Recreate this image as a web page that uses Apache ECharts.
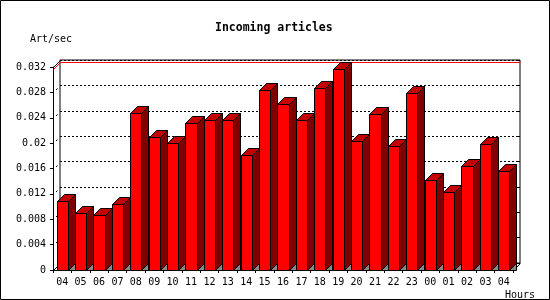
<!DOCTYPE html>
<html><head><meta charset="utf-8">
<script src="https://cdn.jsdelivr.net/npm/echarts@6/dist/echarts.min.js"></script>
<style>html,body{margin:0;padding:0;background:#fff}#c{width:550px;height:300px}</style>
</head><body><div id="c"></div>
<script>
// ---- data ----
const hours = ['04','05','06','07','08','09','10','11','12','13','14','15','16','17','18','19','20','21','22','23','00','01','02','03','04'];
const articlesPerSec = [0.0109,0.0090,0.0087,0.0104,0.0247,0.0210,0.0200,0.0232,0.0236,0.0236,0.0181,0.0284,0.0262,0.0236,0.0287,0.0317,0.0203,0.0246,0.0195,0.0279,0.0142,0.0123,0.0164,0.0199,0.0156];
const yTicks = [0,0.004,0.008,0.012,0.016,0.020,0.024,0.028,0.032];
const titleText = 'Incoming articles';
const yUnit = 'Art/sec';
const xUnit = 'Hours';

// ---- style / layout ----
const MONO = '"DejaVu Sans Mono","Liberation Mono",monospace';
const D = 7;            // 3D depth in px
const FACE = 0.6;       // front face width as fraction of category band
const yMax = yTicks[yTicks.length - 1];
const yInterval = yTicks[1] - yTicks[0];
const maxVal = Math.max.apply(null, articlesPerSec);
const G = {left: 53, top: 67, width: 460, height: 203};

const chart = echarts.init(document.getElementById('c'), null, {renderer: 'canvas'});
const r = v => Math.round(v) + 0.5;

function barItem(params, api) {
  const i = api.value(0), v = api.value(1);
  const c = api.coord([i, v]);
  const b = api.coord([i, 0]);
  const band = api.size([1, 0])[0];
  const fw = band * FACE;
  const xl = r(c[0] - fw / 2), xr = r(c[0] + fw / 2);
  const yt = r(c[1]), yb = r(b[1]);
  const st = {stroke: '#000', lineWidth: 1};
  return {
    type: 'group',
    children: [
      {type: 'polygon', shape: {points: [[xr, yb], [xr + D, yb - D], [xr + D, yb]]}, style: Object.assign({fill: '#888888'}, st)},
      {type: 'polygon', shape: {points: [[xr, yt], [xr + D, yt - D], [xr + D, yb - D], [xr, yb]]}, style: Object.assign({fill: '#800000'}, st)},
      {type: 'polygon', shape: {points: [[xl, yt], [xl + D, yt - D], [xr + D, yt - D], [xr, yt]]}, style: Object.assign({fill: '#c40000'}, st)},
      {type: 'rect', shape: {x: xl, y: yt, width: xr - xl, height: yb - yt}, style: Object.assign({fill: '#ff0000'}, st)}
    ]
  };
}

function frameItem(params, api) {
  const v = api.value(1);
  const cs = params.coordSys;
  const y = r(api.coord([0, v])[1]);
  const x0 = r(cs.x);
  const ch = [];
  if (v === 0 || v === yMax) {
    ch.push({type: 'line', shape: {x1: x0, y1: y, x2: x0 + D, y2: y - D}, style: {stroke: '#000', lineWidth: 1}});
  } else {
    ch.push({type: 'line', shape: {x1: x0 + 2.5, y1: y - 2.5, x2: x0 + 4, y2: y - 4}, style: {stroke: '#000', lineWidth: 1}});
  }
  if (v === 0) {
    const x1 = r(cs.x + cs.width);
    ch.push({type: 'line', shape: {x1: x1, y1: y, x2: x1 + D, y2: y - D}, style: {stroke: '#000', lineWidth: 1}});
  }
  return {type: 'group', children: ch};
}

function maxLineItem(params, api) {
  const v = api.value(1);
  const cs = params.coordSys;
  const y = r(api.coord([0, v])[1]);
  const x0 = r(cs.x);
  return {type: 'polyline', shape: {points: [[x0, y], [x0 + D, y - D], [r(cs.x + cs.width) + D, y - D]]},
          style: {stroke: '#ff0000', lineWidth: 1, fill: null}};
}

const txt = {fontFamily: MONO, color: '#000', fontSize: 10, fontWeight: 'normal', lineHeight: 12};

chart.setOption({
  animation: false,
  backgroundColor: '#fff',
  title: [
    {text: titleText, left: 215, top: 21, padding: 0, textStyle: {fontFamily: MONO, color: '#000', fontSize: 11.5, fontWeight: 'bold', lineHeight: 14}},
    {text: yUnit, left: 30, top: 33, padding: 0, textStyle: txt},
    {text: xUnit, left: 505, top: 289, padding: 0, textStyle: txt}
  ],
  graphic: [{type: 'rect', silent: true, z: 100, shape: {x: 0.5, y: 0.5, width: 549, height: 299}, style: {fill: null, stroke: '#000', lineWidth: 1}}],
  grid: [
    Object.assign({outerBoundsMode: 'none', containLabel: false}, G),
    {outerBoundsMode: 'none', containLabel: false, left: G.left + D, top: G.top - D, width: G.width, height: G.height,
     show: true, borderColor: '#000', borderWidth: 1, backgroundColor: 'transparent'}
  ],
  xAxis: [
    {gridIndex: 0, type: 'category', data: hours, boundaryGap: true,
     axisLine: {show: true, lineStyle: {color: '#000', width: 1}},
     axisTick: {show: true, length: 3, interval: 0, alignWithLabel: false, lineStyle: {color: '#000'}},
     axisLabel: Object.assign({interval: 0, margin: 6, hideOverlap: false}, txt),
     splitLine: {show: false}},
    {gridIndex: 1, type: 'category', data: hours, show: false}
  ],
  yAxis: [
    {gridIndex: 0, type: 'value', min: 0, max: yMax, interval: yInterval,
     axisLine: {show: true, lineStyle: {color: '#000', width: 1}},
     axisTick: {show: true, length: 3, lineStyle: {color: '#000'}},
     axisLabel: Object.assign({margin: 7}, txt),
     splitLine: {show: false}},
    {gridIndex: 1, type: 'value', min: 0, max: yMax, interval: yInterval, position: 'left',
     axisLine: {show: false}, axisTick: {show: false}, axisLabel: {show: false},
     splitLine: {show: true, lineStyle: {color: '#000', width: 1, type: [2, 2]}}},
    {gridIndex: 1, type: 'value', min: 0, max: yMax, interval: yInterval, position: 'right',
     axisLine: {show: false}, axisTick: {show: true, inside: true, length: 3, lineStyle: {color: '#000'}},
     axisLabel: {show: false}, splitLine: {show: false}}
  ],
  series: [
    {type: 'custom', name: 'max', xAxisIndex: 0, yAxisIndex: 0, z: 1, clip: false, silent: true,
     renderItem: maxLineItem, data: [[0, maxVal]], encode: {x: 0, y: 1}},
    {type: 'custom', name: 'frame', xAxisIndex: 0, yAxisIndex: 0, z: 1, clip: false, silent: true,
     renderItem: frameItem, data: yTicks.map(v => [0, v]), encode: {x: 0, y: 1}},
    {type: 'custom', name: 'Incoming articles', xAxisIndex: 0, yAxisIndex: 0, z: 3, clip: false,
     renderItem: barItem, data: articlesPerSec.map((v, i) => [i, v]), encode: {x: 0, y: 1}}
  ]
});
</script>
</body></html>
